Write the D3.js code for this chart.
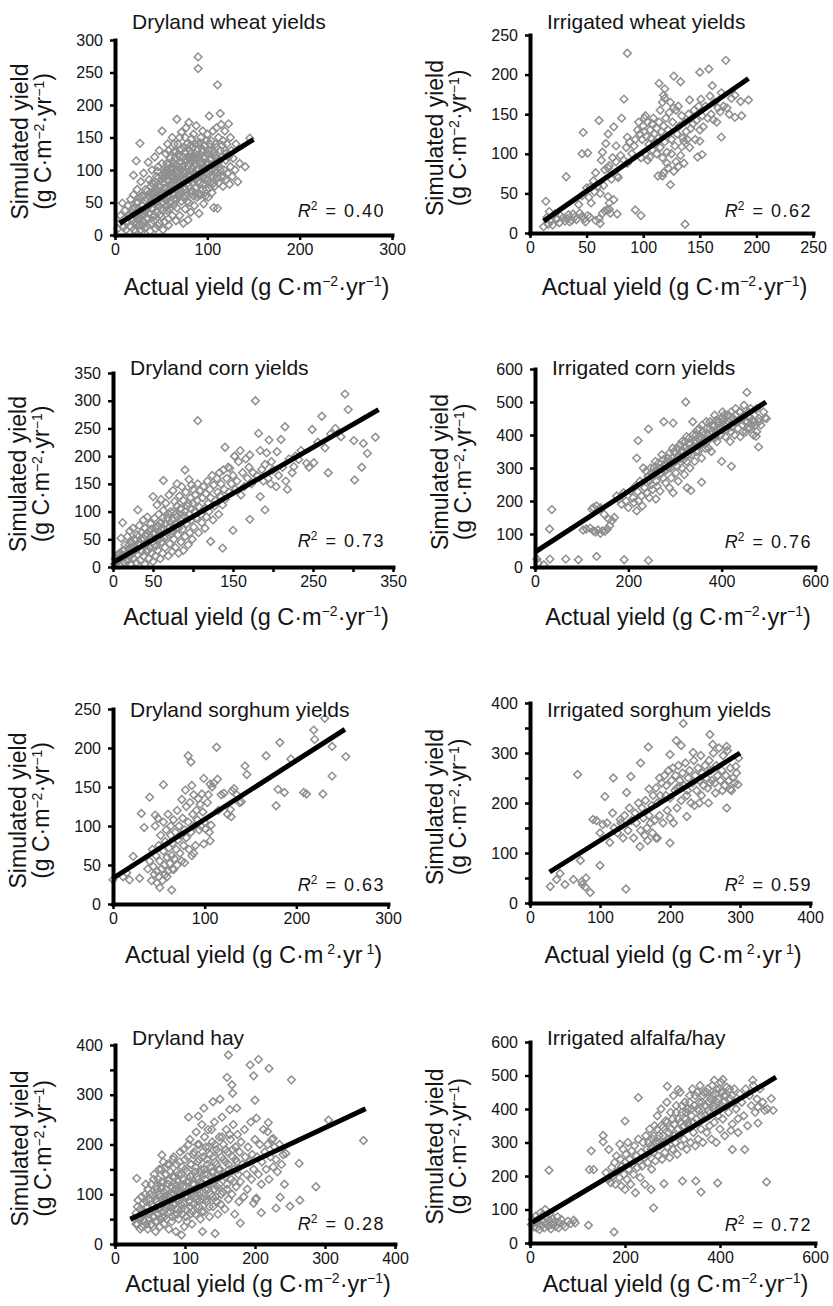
<!DOCTYPE html>
<html>
<head>
<meta charset="utf-8">
<script src="https://cdn.jsdelivr.net/npm/d3@7"></script>
<style>
  body { margin: 0; background: #fff; }
  svg { display: block; font-family: 'Liberation Sans', Arial, Helvetica, sans-serif; }
</style>
</head>
<body>
<svg id="chart" width="833" height="1306"></svg>
<script>
// points: [actual, simulated] in g C m-2 yr-1
var dryWheat = [
  [3,10],[5,18],[6,30],[8,49],[9,12],[10,25],[11,38],[12,8],[13,20],[14,45],[15,30],[16,14],[17,55],[18,35],[19,22],
  [20,92],[20,62],[21,8],[22,42],[22,5],[23,114],[23,28],[24,70],[24,18],[25,50],[26,15],[27,141],[27,35],[27,25],[28,82],[28,8],[29,60],
  [30,22],[30,45],[31,95],[31,33],[32,10],[33,70],[34,38],[34,12],[35,55],[35,42],[36,112],[36,25],[37,85],[38,48],[38,6],[39,65],[39,52],
  [40,18],[40,100],[40,80],[41,40],[42,78],[42,22],[43,120],[43,30],[43,65],[44,58],[44,10],[45,90],[45,50],[46,15],[46,70],[46,98],[47,105],
  [47,75],[48,45],[48,130],[48,18],[49,62],[50,28],[50,85],[50,60],[51,160],[51,110],[52,50],[52,8],[52,88],[53,72],[54,20],[54,95],
  [55,125],[55,65],[56,38],[56,60],[56,110],[57,140],[57,100],[57,45],[58,82],[58,15],[58,25],[58,130],[59,102],[60,48],[60,118],[60,75],
  [61,68],[61,100],[62,30],[62,150],[62,90],[63,88],[63,112],[64,55],[64,128],[64,140],[65,75],[65,80],[66,22],[66,108],[66,128],[67,178],
  [67,42],[67,55],[68,95],[68,140],[69,62],[69,105],[70,30],[70,120],[70,70],[70,150],[71,85],[71,100],[72,52],[72,158],[73,105],[73,92],
  [74,18],[74,72],[74,120],[75,135],[75,85],[76,40],[76,95],[76,150],[77,165],[77,60],[77,65],[78,115],[78,102],[79,23],[79,80],[80,173],
  [80,50],[80,90],[81,130],[81,110],[82,98],[82,35],[82,125],[83,148],[83,118],[84,68],[84,112],[84,135],[85,88],[85,155],[85,95],[86,45],
  [86,110],[87,125],[87,72],[87,85],[88,100],[88,168],[89,58],[89,120],[90,274],[90,256],[90,140],[90,82],[91,33],[91,115],[92,95],[93,150],
  [93,62],[93,110],[94,128],[94,90],[95,78],[95,160],[96,105],[96,48],[97,138],[97,100],[98,88],[98,120],[99,70],[99,112],[100,155],[100,108],
  [101,95],[101,58],[102,183],[102,130],[103,80],[103,98],[104,118],[104,145],[105,100],[105,65],[106,160],[106,88],[107,42],[107,128],
  [108,108],[108,75],[109,140],[110,95],[110,165],[111,41],[111,231],[111,118],[112,80],[112,150],[113,105],[114,187],[114,130],[115,90],
  [115,170],[116,120],[117,75],[117,145],[118,100],[119,160],[119,130],[120,85],[120,115],[121,140],[122,95],[123,171],[123,120],[124,78],
  [125,150],[125,105],[126,130],[127,90],[128,118],[130,100],[131,140],[133,82],[135,110],[141,105],[146,149],
  [14,20],[16,32],[18,26],[19,40],[21,18],[22,34],[23,50],[25,24],[26,40],[27,58],[28,30],[29,46],[30,15],[31,60],[32,38],[33,52],[34,26],
  [35,68],[36,44],[37,33],[38,58],[39,75],[40,40],[41,28],[41,62],[42,50],[43,82],[44,36],[45,66],[46,46],[47,88],[48,56],[49,32],[49,74],
  [50,48],[51,92],[51,66],[52,38],[53,80],[54,56],[55,100],[55,44],[56,72],[57,86],[58,58],[59,40],[59,110],[60,90],[61,52],[62,78],
  [62,104],[63,64],[64,46],[64,92],[65,118],[66,70],[66,86],[67,100],[68,60],[68,124],[69,80],[70,92],[71,64],[71,112],[72,76],[72,132],
  [73,86],[74,98],[74,58],[75,115],[76,70],[76,128],[77,88],[78,52],[78,140],[79,106],[80,76],[80,118],[81,92],[82,64],[82,138],[83,102],
  [84,80],[85,120],[85,60],[86,96],[87,140],[87,108],[88,74],[89,88],[89,130],[90,100],[90,62],[91,122],[92,80],[92,142],[93,96],[94,112],
  [95,70],[95,132],[96,90],[97,118],[98,104],[98,60],[99,145],[100,84],[100,124],[101,110],[102,72],[103,140],[103,115],[104,92],[105,130],
  [106,108],[107,80],[108,122],[109,100],[110,135],[111,88],[112,112],[114,100],[116,138],[118,90],[120,125]
]
var irrWheat = [
  [86,227],[173,218],[127,198],[133,191],[150,203],[158,207],[114,189],[119,182],[83,169],[118,174],[159,173],[169,177],[186,166],[161,186],
  [117,165],[141,168],[61,142],[47,127],[74,134],[81,145],[101,145],[151,169],[181,146],[169,121],[152,99],[46,100],[51,101],[32,71],
  [69,125],[76,110],[86,121],[64,102],[67,113],[69,82],[77,72],[113,72],[118,76],[124,61],[127,78],[131,84],[136,116],[134,109],[150,116],
  [153,134],[162,143],[166,158],[168,153],[181,174],[50,57],[46,47],[62,50],[60,59],[54,38],[69,46],[70,30],[77,24],[93,29],[98,22],[137,11],
  [14,40],[17,27],[16,11],[22,24],[29,19],[34,23],[40,21],[43,36],[46,21],[51,22],[61,18],[64,25],[31,15],[37,16],[68,29],
  [95,130],[97,125],[99,118],[100,135],[101,128],[103,122],[104,140],[105,112],[106,130],[107,120],[108,138],[109,145],[110,125],[111,115],
  [112,132],[113,120],[114,140],[115,108],[116,128],[118,135],[119,115],[120,145],[121,102],[122,130],[123,152],[125,118],[126,140],[128,110],
  [129,155],[130,125],[131,160],[132,135],[134,148],[135,120],[137,140],[138,128],[139,118],[140,150],[142,132],[144,138],[145,155],[147,142],
  [149,160],[150,130],[152,148],[155,160],[157,145],[160,150],[163,165],[165,140],[171,160],[174,158],[176,150],[178,170],[187,148],[193,168],
  [98,95],[102,100],[104,92],[106,96],[108,105],[112,100],[117,95],[121,88],[125,100],[92,110],[90,100],[88,115],[85,108],[83,92],[80,98],
  [76,90],[73,95],[70,85],[66,80],[63,92],[58,76],[56,66],[53,58],[52,45],[57,52],[65,60],[72,68],[78,70],[86,88],[93,118],[96,140],
  [102,148],[110,112],[115,155],[119,170],[124,165],[127,158],[133,98],[141,108],[146,118],[148,96],[136,88],[129,90],[117,72],[122,82],
  [12,8],[15,20],[18,15],[20,10],[24,18],[26,13],[27,22],[33,18],[35,14],[38,24],[41,17],[44,25],[48,18],[49,14],[53,20],[58,16],[62,12],
  [66,28],[70,38],[71,25],[74,42]
]
var dryCorn = [
  [290,312],[294,284],[178,300],[106,264],[261,272],[249,248],[215,253],[278,250],[301,228],[313,223],[328,234],[318,205],[311,180],[302,157],
  [269,170],[251,188],[242,187],[232,194],[226,181],[218,140],[204,145],[182,241],[195,229],[210,230],[205,208],[192,206],[184,210],[171,202],
  [159,210],[152,200],[140,216],[146,178],[200,175],[186,176],[171,86],[190,103],[184,127],[150,66],[137,34],[122,46],[90,175],[63,156],
  [75,138],[31,103],[12,80],[10,52],[50,127],
  [2,5],[3,15],[5,10],[6,22],[8,4],[10,18],[12,30],[14,8],[15,40],[16,20],[18,55],[19,12],[20,32],[21,65],[22,5],[23,45],[24,25],[25,70],
  [26,15],[27,50],[28,35],[29,8],[30,58],[31,22],[32,42],[33,75],[34,12],[35,30],[36,62],[37,48],[38,20],[38,85],[39,38],[40,5],[40,70],
  [41,55],[42,28],[43,90],[44,45],[45,15],[45,65],[46,35],[47,78],[48,25],[49,52],[50,10],[50,60],
  [51,40],[52,88],[53,20],[54,70],[55,112],[55,50],[56,30],[57,95],[58,62],[59,15],[60,80],[60,122],[61,45],[62,25],[63,102],[64,68],[65,35],
  [66,115],[67,55],[68,88],[69,20],[70,130],[70,72],[71,42],[72,100],[73,60],[74,28],[75,85],[76,50],[77,118],[78,35],[78,95],[79,70],
  [80,150],[80,110],[81,58],[82,25],[83,128],[84,85],[85,45],[85,105],[86,145],[87,68],[88,30],[88,120],[89,92],[90,55],[91,135],[92,78],
  [93,110],[94,40],[95,158],[95,95],[96,62],[97,125],[98,85],[98,148],[99,50],[100,115],[100,140],
  [101,72],[102,100],[103,130],[104,88],[105,120],[106,150],[107,62],[108,108],[109,138],[110,95],[111,80],[112,125],[113,145],[114,105],
  [115,70],[116,132],[117,90],[118,155],[119,115],[120,100],[121,140],[122,125],[124,165],[125,85],[126,148],[127,110],[128,120],[130,160],
  [131,135],[132,95],[133,170],[134,128],[135,150],[137,112],[138,175],[139,140],[140,122],
  [142,160],[144,180],[145,135],[148,150],[150,165],[152,200],[153,140],[155,155],[157,190],[160,130],[162,170],[164,145],[166,195],
  [168,160],[170,180],[173,150],[175,170],[180,165],[188,155],[190,185],[194,160],[197,150],[198,190],[207,165],[212,180],[216,155],
  [220,195],[224,170],[228,200],[235,210],[245,180],[256,225],[265,215],[272,240],[285,235],
  [5,15],[8,12],[10,25],[12,18],[14,30],[16,12],[18,25],[20,40],[22,20],[24,35],[26,28],[28,48],[30,32],[32,55],[34,40],[36,28],[38,52],
  [40,42],[42,60],[44,30],[46,52],[48,68],[50,45],[52,62],[54,38],[56,75],[58,50],[60,68],[62,88],[64,52],[66,78],[68,62],[70,95],[72,80],
  [74,65],[76,100],[78,78],[80,90],[82,70],[84,105],[86,88],[90,100],[94,115],[98,105]
]
var irrCorn = [
  [454,529],[323,500],[493,452],[479,364],[474,396],[421,305],[400,320],[357,257],[334,232],[259,206],[243,418],[221,383],[218,330],
  [36,174],[31,115],[4,24],[19,7],[32,24],[66,24],[93,22],[132,32],[191,22],[243,20],[7,12],
  [118,118],[125,110],[130,106],[135,112],[140,102],[145,110],[150,108],[155,115],[160,125],[165,140],[170,150],[158,145],[148,160],
  [140,180],[132,185],[125,180],[122,175],[110,115],[103,112],
  [175,215],[180,205],[185,190],[190,225],[195,200],[200,180],[205,230],[210,210],[212,195],[215,245],[218,170],[220,228],[222,200],
  [225,260],[228,215],[230,185],[232,300],[235,240],[238,290],[240,225],[242,275],[245,210],[248,300],[250,250],[252,235],[255,280],
  [258,320],[260,260],[262,245],[265,300],[268,230],[270,285],[272,340],[275,270],[276,440],[278,310],[280,255],[282,295],[285,330],
  [288,240],[290,300],[292,270],[295,360],[296,225],[296,436],[298,320],[300,345],[302,285],[305,305],[307,260],[310,370],[312,330],
  [315,300],[318,350],[320,280],[322,380],[325,320],[326,240],[328,355],[330,390],[332,300],[335,340],[338,440],[340,365],[342,320],
  [345,400],[347,380],[350,350],[352,420],[355,395],[357,330],[360,410],[362,375],[365,360],[367,440],[370,400],[372,385],[375,420],
  [378,350],[380,430],[382,395],[385,460],[388,410],[390,380],[392,440],[395,420],[398,400],[400,450],[402,470],[405,430],[408,395],
  [410,415],[412,460],[415,440],[418,380],[420,470],[422,425],[425,450],[428,400],[430,480],[432,440],[435,420],[438,470],[440,395],
  [442,450],[445,430],[448,490],[450,460],[452,410],[455,440],[458,470],[460,420],[462,480],[465,445],[468,400],[470,460],[472,430],
  [475,480],[480,450],[484,430],[490,470],[496,450],
  [245,260],[250,285],[255,300],[260,290],[265,315],[268,280],[272,300],[275,325],[278,290],[282,320],[285,300],[288,345],[292,315],
  [295,330],[298,350],[302,320],[305,360],[308,335],[312,350],[315,380],[318,325],[322,360],[325,395],[328,340],[332,375],[335,360],
  [338,400],[342,380],[345,350],[348,415],[352,385],[355,370],[358,430],[362,400],[365,385],[368,420],[372,360],[375,440],[378,410],
  [382,425],[385,390],[388,445],[392,415],[395,440],[398,420],[402,440],[405,460],[410,435],[415,460],[420,410],[425,440],[430,460],
  [435,440],[440,470],[445,410],[450,440],[455,420],[460,455],[465,430],[470,440],[475,410],[480,440]
]
var drySorghum = [
  [231,238],[219,223],[220,211],[239,202],[254,189],[239,164],[194,186],[182,207],[167,190],[144,177],[146,166],[140,131],[130,145],
  [128,121],[129,112],[113,201],[114,160],[106,154],[99,161],[97,141],[107,101],[106,81],[99,77],[82,190],[85,182],[86,152],[79,146],
  [75,134],[55,153],[40,137],[31,116],[34,98],[46,114],[178,126],[180,147],[187,143],[208,143],[211,141],[229,141],[64,18],[51,21],
  [22,61],[0,31],[11,35],[18,31],[15,40],[29,33],[88,65],[78,53],[66,44],[59,35],[48,27],
  [38,45],[40,55],[42,30],[43,70],[44,48],[45,38],[46,100],[47,62],[48,42],[49,110],[50,75],[50,35],[51,55],[52,88],[53,45],[54,30],
  [55,68],[55,105],[56,50],[57,80],[57,38],[58,95],[59,60],[60,42],[60,115],[61,72],[62,52],[63,88],[63,100],[64,62],[65,45],[65,78],
  [66,108],[67,58],[68,92],[69,70],[70,50],[70,120],[71,82],[72,100],[73,65],[74,88],[75,55],[76,110],[77,75],[78,95],[80,125],[80,85],
  [82,105],[83,70],[84,130],[85,92],[86,62],[87,115],[88,140],[89,100],[90,75],[91,120],[92,108],[93,135],[94,95],[95,128],[96,100],
  [98,118],[100,105],[101,96],[103,130],[104,140],[105,92],[108,150],[110,155],[115,120],[118,140],[121,142],[125,115],[132,148],
  [135,140],[138,130]
]
var irrSorghum = [
  [219,359],[257,337],[209,325],[169,312],[281,313],[261,317],[216,315],[68,257],[200,297],[233,301],[158,280],[119,250],[144,253],
  [107,213],[138,221],[170,228],[186,215],[214,233],[294,273],[297,237],[286,227],[281,190],[257,240],[242,200],[224,173],[200,120],
  [182,130],[157,113],[114,121],[90,167],[104,157],[118,180],[129,167],[100,75],[72,85],[137,28],[29,33],[38,47],[50,37],[62,47],
  [74,43],[80,50],[86,21],[79,32],[43,59],[75,37],
  [150,180],[152,160],[155,200],[158,145],[160,190],[162,170],[164,135],[165,205],[167,150],[168,125],[170,175],[172,160],[174,195],
  [175,140],[176,215],[178,165],[180,130],[182,200],[185,175],[188,240],[190,160],[192,255],[194,215],[196,185],[198,265],[200,170],
  [202,245],[204,270],[205,160],[207,225],[208,255],[210,190],[212,275],[214,245],[216,205],[218,260],[220,235],[222,280],[224,215],
  [226,250],[228,265],[230,200],[232,240],[234,285],[236,255],[238,225],[240,270],[242,245],[244,295],[246,260],[248,235],[250,275],
  [252,250],[254,230],[256,285],[258,265],[260,245],[262,300],[264,240],[266,275],[268,255],[270,310],[272,245],[274,265],[276,295],
  [278,235],[280,255],[282,305],[284,245],[286,270],[288,225],[290,250],[292,240],[295,260],[298,290],[130,160],[135,175],[140,145],
  [142,190],[145,165],[148,130],[125,140],[120,150],[133,130],[110,160],[95,165],[100,140],[180,230],[185,250],[195,235],[200,210],
  [210,230],[225,225],[235,195],[245,215],[255,200],[265,220],[275,225]
]
var dryHay = [
  [162,380],[205,371],[220,353],[193,360],[198,338],[160,335],[252,330],[167,320],[168,303],[105,255],[200,289],[174,273],[305,249],
  [355,208],[263,162],[287,115],[264,88],[250,76],[236,94],[230,72],[202,92],[209,63],[198,82],[179,42],[143,21],[125,25],[95,18],
  [31,132],[67,179],[119,257],[140,286],[150,291],[127,273],[218,226],[226,212],[244,182],[202,253],[219,244],
  [30,40],[32,75],[34,55],[36,30],[38,95],[40,65],[42,45],[44,120],[45,85],[47,30],[48,60],[50,100],[52,40],[54,75],[55,130],[56,55],
  [58,25],[58,90],[60,110],[60,45],
  [62,70],[63,150],[64,35],[65,95],[66,125],[67,55],[68,80],[69,165],[70,40],[70,105],[72,70],[73,140],[74,50],[75,90],[76,120],[77,30],
  [78,160],[79,65],[80,100],[81,45],[82,135],[83,80],[84,175],[85,60],[86,110],[87,25],[88,145],[88,90],[89,70],[90,125],
  [91,50],[92,165],[93,100],[94,80],[95,140],[96,60],[97,115],[98,190],[99,35],[100,95],[100,150],[101,70],[102,125],[103,45],[104,175],
  [105,105],[106,85],[107,210],[108,60],[108,135],[109,160],[110,100],[110,40],[111,120],[112,80],[113,185],[114,145],[115,60],[115,110],
  [116,225],[117,90],[118,165],[119,130],[120,75],[120,200],[121,105],[122,50],[123,150],[124,240],[124,120],[125,90],[126,175],[127,65],
  [128,140],[129,110],[130,195],
  [131,85],[132,160],[133,230],[134,120],[135,55],[136,180],[137,100],[138,145],[139,205],[140,75],[141,130],[142,245],[143,165],[144,95],
  [145,190],[146,115],[147,60],[148,150],[149,215],[150,135],[151,80],[152,175],[153,255],[154,105],[155,200],[156,140],[157,70],
  [158,165],[159,230],[160,120],[161,185],[162,90],[163,150],[164,270],[165,210],[166,130],[167,100],[168,175],[169,240],[170,150],
  [171,60],[172,195],[173,115],[174,165],[175,220],[176,140],[177,85],[178,185],[179,125],[180,205],
  [182,160],[184,95],[185,230],[186,175],[188,140],[189,110],[190,195],[192,165],[194,245],[195,130],[196,180],[198,150],[200,210],
  [201,90],[203,175],[205,140],[207,200],[209,120],[210,165],[212,230],[214,185],[216,150],[218,200],[220,130],[222,175],[224,210],
  [226,155],[228,195],[230,170],[232,145],[235,200],[238,160],[240,180],[242,120],
  [28,50],[30,62],[32,40],[33,88],[35,48],[36,70],[38,35],[39,58],[40,82],[41,48],[43,100],[43,62],[45,40],[46,75],[47,110],[48,52],
  [49,90],[50,65],[51,38],[52,120],[53,80],[54,55],[55,98],[56,140],[57,70],[58,45],[59,115],[60,85],[61,60],[62,130],[63,100],[64,72],
  [65,50],[66,150],[66,112],[67,88],[68,65],[69,125],[70,95],[71,55],[72,140],[73,110],[74,78],[75,160],[76,62],[77,128],[78,95],
  [79,145],[80,75],[81,115],[82,55],[83,170],[84,100],[85,135],[86,80],[87,118],[88,160],[89,60],[90,105],[91,140],[92,88],[93,185],
  [94,120],[95,70],[96,155],[97,100],[98,130],[99,82],[100,170],[101,115],[102,55],[103,145],[104,95],[105,200],[106,125],[107,75],
  [108,160],[109,105],[110,140],[111,65],[112,180],[113,120],[114,95],[115,155],[116,75],[117,135],[118,200],[119,110],[120,170],
  [121,88],[122,145],[123,125],[124,65],[125,185],[126,105],[127,150],[128,215],[129,130],[130,90],[131,170],[132,140],[133,110],
  [134,195],[135,75],[136,155],[137,125],[138,230],[139,95],[140,175],[141,145],[142,110],[143,200],[144,130],[145,160],[146,85],
  [148,185],[149,120],[150,150],[152,100],[153,215],[155,170],[157,135],[158,190],[160,110],[162,160],[164,220],[166,145],[168,190],
  [170,125],[172,170],[175,150]
]
var irrAlfalfa = [
  [40,217],[123,53],[177,33],[260,105],[282,177],[321,185],[349,185],[360,152],[395,179],[498,182],[508,431],[512,396],[494,396],
  [469,486],[480,406],[480,358],[438,371],[426,279],[423,336],[452,279],[228,434],[289,468],[312,458],[388,486],[406,488],[129,275],
  [125,219],[134,219],[154,321],[154,302],[166,279],[200,364],[189,295],
  [3,55],[5,70],[8,48],[10,62],[12,80],[14,45],[16,58],[18,72],[20,40],[22,90],[24,52],[26,65],[28,85],[30,45],[32,100],[34,60],[36,75],
  [38,50],[40,68],[42,88],[44,42],[46,55],[48,72],[50,62],[54,50],[58,78],[60,45],[62,60],[66,70],[70,55],[74,48],[80,65],[86,58],
  [92,68],[95,60],
  [160,210],[165,190],[170,180],[172,225],[175,200],[178,240],[180,175],[182,260],[185,215],[188,195],[190,250],[192,170],[194,230],
  [196,280],[198,205],[200,160],[200,240],[202,265],[204,190],[206,300],[208,220],[210,250],[212,175],[214,275],[216,235],[218,205],
  [220,290],[222,150],[224,260],[226,225],[228,310],[230,245],[232,195],[234,270],[236,230],[238,300],[240,255],[242,175],[244,320],
  [246,280],[248,240],[250,265],[252,340],[254,290],[255,160],[256,220],[258,310],[260,270],[262,350],[264,245],[266,300],[268,380],
  [270,260],[272,320],[274,290],[276,400],[278,250],[280,345],[282,300],[284,270],[286,365],[288,420],[290,285],[292,330],[294,255],
  [296,390],[298,310],[300,280],[302,440],[304,355],[306,300],[308,410],[310,265],[312,370],[314,320],[316,450],[318,290],[320,390],
  [322,345],[324,310],[326,420],[328,370],[330,280],[332,400],[334,350],[336,440],[338,300],[340,380],[342,460],[344,330],[346,410],
  [348,290],[350,370],[352,450],[354,310],[356,395],[358,470],[360,340],[362,420],[364,300],[366,450],[368,380],[370,410],[372,330],
  [374,460],[376,395],[378,350],[380,430],[382,310],[384,470],[386,400],[388,360],[390,445],[392,300],[394,420],[396,380],[398,460],
  [400,340],[402,480],[404,410],[406,370],[408,440],[410,320],[414,465],[418,390],[422,430],[426,355],[430,460],[434,400],[438,330],
  [442,445],[446,420],[450,380],[454,460],[458,350],[462,440],[466,410],[470,470],[474,390],[478,430],[484,460],[490,420],[500,400],
  [250,300],[255,280],[260,320],[264,300],[268,340],[272,300],[276,350],[280,320],[284,300],[288,360],[292,310],[296,340],[300,370],
  [304,320],[308,390],[312,340],[316,360],[320,410],[324,350],[328,390],[332,360],[336,420],[340,400],[344,360],[348,440],[352,400],
  [356,420],[360,380],[364,440],[368,410],[372,450],[376,420],[380,390],[384,440],[388,410],[392,460],[396,430],[400,400],[404,450],
  [408,420],[412,440],[416,410],[420,460],[425,440],[430,420]
]

// regression lines, [start, end]
var dryWheatFit = [[5, 18], [150, 147]]
var irrWheatFit = [[12, 15], [193, 195]]
var dryCornFit = [[0, 8], [332, 284]]
var irrCornFit = [[0, 45], [495, 500]]
var drySorghumFit = [[0, 33], [253, 224]]
var irrSorghumFit = [[28, 62], [300, 300]]
var dryHayFit = [[22, 50], [358, 272]]
var irrAlfalfaFit = [[5, 62], [518, 495]]

var titles = ['Dryland wheat yields', 'Irrigated wheat yields', 'Dryland corn yields', 'Irrigated corn yields',
  'Dryland sorghum yields', 'Irrigated sorghum yields', 'Dryland hay', 'Irrigated alfalfa/hay']
var r2Values = ['0.40', '0.62', '0.73', '0.76', '0.63', '0.59', '0.28', '0.72']

// tick values
var t300by50 = [0, 50, 100, 150, 200, 250, 300]
var t250by50 = [0, 50, 100, 150, 200, 250]
var t350by50 = [0, 50, 100, 150, 200, 250, 300, 350]
var t300by100 = [0, 100, 200, 300]
var t400by100 = [0, 100, 200, 300, 400]
var t400by50 = [0, 50, 100, 150, 200, 250, 300, 350, 400]
var t600by100 = [0, 100, 200, 300, 400, 500, 600]
var t600by200 = [0, 200, 400, 600]
var cornDryXLabels = [0, 50, 150, 250, 350]

// box: [left, right, bottom, top], then baselines for title, x label, R2
var panels = [
  { pts: dryWheat, fit: dryWheatFit, xMax: 300, yMax: 300, xTicks: t300by100, xLabels: t300by100, yTicks: t300by50, yLabels: t300by50,
    box: [115, 392, 235, 40], titleY: 29, xLabY: 295, r2Y: 217, r2X: 385 },
  { pts: irrWheat, fit: irrWheatFit, xMax: 250, yMax: 250, xTicks: t250by50, xLabels: t250by50, yTicks: t250by50, yLabels: t250by50,
    box: [530, 813, 233, 35], titleY: 29, xLabY: 295, r2Y: 217, r2X: 812 },
  { pts: dryCorn, fit: dryCornFit, xMax: 350, yMax: 350, xTicks: t350by50, xLabels: cornDryXLabels, yTicks: t350by50, yLabels: t350by50,
    box: [113, 393, 567, 373], titleY: 375, xLabY: 625, r2Y: 547, r2X: 385 },
  { pts: irrCorn, fit: irrCornFit, xMax: 600, yMax: 600, xTicks: t600by200, xLabels: t600by200, yTicks: t600by100, yLabels: t600by100,
    box: [535, 815, 567, 369], titleY: 375, xLabY: 625, r2Y: 548, r2X: 812 },
  { pts: drySorghum, fit: drySorghumFit, xMax: 300, yMax: 250, xTicks: t300by100, xLabels: t300by100, yTicks: t250by50, yLabels: t250by50,
    box: [113, 388, 904, 709], titleY: 717, xLabY: 963, r2Y: 891, r2X: 385, noMinus: true },
  { pts: irrSorghum, fit: irrSorghumFit, xMax: 400, yMax: 400, xTicks: t400by100, xLabels: t400by100, yTicks: t400by50, yLabels: t400by100,
    box: [530, 810, 903, 703], titleY: 717, xLabY: 963, r2Y: 891, r2X: 812, noMinus: true },
  { pts: dryHay, fit: dryHayFit, xMax: 400, yMax: 400, xTicks: t400by100, xLabels: t400by100, yTicks: t400by50, yLabels: t400by100,
    box: [115, 395, 1244, 1045], titleY: 1045, xLabY: 1292, r2Y: 1230, r2X: 385 },
  { pts: irrAlfalfa, fit: irrAlfalfaFit, xMax: 600, yMax: 600, xTicks: t600by200, xLabels: t600by200, yTicks: t600by100, yLabels: t600by100,
    box: [530, 815, 1243, 1042], titleY: 1045, xLabY: 1292, r2Y: 1231, r2X: 812 }
]

var svg = d3.select('#chart')
var textColor = '#141414'
var diamond = d3.symbol().type(d3.symbolSquare).size(30)

// unit label with superscripts, e.g. (g C·m−2·yr−1)
function unitLabel (sel, pre, noMinus, sup) {
  var m = noMinus ? '\u00a0' : '\u2212'
  sel.append('tspan').text(pre + '(g C\u00b7m')
  sel.append('tspan').attr('font-size', 14).attr('dy', -sup).text(m + '2')
  sel.append('tspan').attr('dy', sup).text('\u00b7yr')
  sel.append('tspan').attr('font-size', 14).attr('dy', -sup).text(m + '1')
  sel.append('tspan').attr('dy', sup).text(')')
}

panels.forEach(function (p, i) {
  var x = d3.scaleLinear().domain([0, p.xMax]).range([p.box[0], p.box[1]])
  var y = d3.scaleLinear().domain([0, p.yMax]).range([p.box[2], p.box[3]])
  var g = svg.append('g')

  // scatter
  g.append('g').selectAll('path').data(p.pts).enter().append('path')
    .attr('d', diamond)
    .attr('transform', function (d) { return 'translate(' + x(d[0]) + ',' + y(d[1]) + ') rotate(45)' })
    .attr('fill', 'none')
    .attr('stroke', '#8f8f8f')
    .attr('stroke-width', 1.5)

  // fit line
  var line = d3.line().x(function (d) { return x(d[0]) }).y(function (d) { return y(d[1]) })
  g.append('path').datum(p.fit)
    .attr('d', line)
    .attr('fill', 'none')
    .attr('stroke', '#000')
    .attr('stroke-width', 5)

  // axes
  var yAxisG = g.append('g').attr('transform', 'translate(' + p.box[0] + ',0)')
    .call(d3.axisLeft(y).tickValues(p.yTicks)
      .tickFormat(function (d) { return p.yLabels.indexOf(d) >= 0 ? d : '' })
      .tickSize(5).tickSizeOuter(0).tickPadding(7))
  var xAxisG = g.append('g').attr('transform', 'translate(0,' + p.box[2] + ')')
    .call(d3.axisBottom(x).tickValues(p.xTicks)
      .tickFormat(function (d) { return p.xLabels.indexOf(d) >= 0 ? d : '' })
      .tickSize(5).tickSizeOuter(0).tickPadding(4))
  ;[yAxisG, xAxisG].forEach(function (a) {
    a.attr('font-family', null).attr('font-size', 16)
    a.select('.domain').attr('stroke', '#000').attr('stroke-width', 4).attr('stroke-linecap', 'square')
    a.selectAll('.tick line').attr('stroke', '#000').attr('stroke-width', 2.5)
    a.selectAll('.tick text').attr('fill', textColor)
  })

  // title
  g.append('text')
    .attr('x', p.box[0] + 17)
    .attr('y', p.titleY)
    .attr('font-size', 21)
    .attr('fill', textColor)
    .text(titles[i])

  // x label
  var xl = g.append('text')
    .attr('x', (p.box[0] + p.box[1]) / 2 + 3)
    .attr('y', p.xLabY)
    .attr('text-anchor', 'middle')
    .attr('font-size', 23.5)
    .attr('fill', textColor)
  unitLabel(xl, 'Actual yield ', p.noMinus, 9)

  // y label, two lines
  var cy = (p.box[2] + p.box[3]) / 2 + 4
  g.append('text')
    .attr('transform', 'rotate(-90)')
    .attr('x', -cy)
    .attr('y', p.box[0] - 87)
    .attr('text-anchor', 'middle')
    .attr('font-size', 23)
    .attr('fill', textColor)
    .text('Simulated yield')
  var yl = g.append('text')
    .attr('transform', 'rotate(-90)')
    .attr('x', -cy)
    .attr('y', p.box[0] - 64)
    .attr('text-anchor', 'middle')
    .attr('font-size', 23)
    .attr('fill', textColor)
  unitLabel(yl, '', false, 7)

  // R2 note
  var r = g.append('text')
    .attr('x', p.r2X)
    .attr('y', p.r2Y)
    .attr('text-anchor', 'end')
    .attr('font-size', 18)
    .attr('fill', textColor)
  r.append('tspan').attr('font-style', 'italic').text('R')
  r.append('tspan').attr('font-size', 12).attr('dy', -7).text('2')
  r.append('tspan').attr('dx', 8).attr('dy', 7).text('=')
  r.append('tspan').attr('dx', 8).attr('letter-spacing', 1.5).text(r2Values[i])
})
</script>
</body>
</html>
